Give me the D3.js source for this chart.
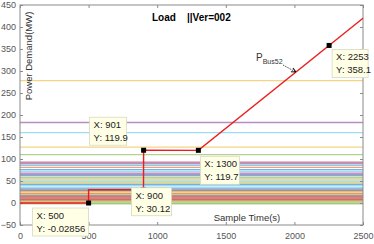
<!DOCTYPE html>
<html>
<head>
<meta charset="utf-8">
<script src="https://cdn.jsdelivr.net/npm/d3@7"></script>
<style>
  body { margin: 0; background: #fff; }
  text { font-family: "Liberation Sans", Arial, sans-serif; }
</style>
</head>
<body>
<div id="chartArea"></div>
<script>
// ---- data ----
var xTicks = [0, 500, 1000, 1500, 2000, 2500]
var yTicks = [-50, 0, 50, 100, 150, 200, 250, 300, 350, 400, 450]

// flat load levels of the other buses (MW)
var loadLevels = [278, 183, 160, 127, 110, 93, 90, 86, 81, 76, 72, 68, 65, 62, 58, 55, 52, 48, 45, 42, 39, 35, 32, 29, 26, 23, 21, 18, 16, 14, 12, 10, 8, 6, 3, 0, -2]
var loadColors = ['#EDB120', '#7E2F8E', '#4DBEEE', '#EDB120', '#77AC30', '#A2142F', '#7E2F8E', '#0072BD', '#D95319', '#0072BD', '#4DBEEE', '#7E2F8E', '#7E2F8E', '#0072BD', '#77AC30', '#EDB120', '#4DBEEE', '#77AC30', '#EDB120', '#0072BD', '#4DBEEE', '#4DBEEE', '#0072BD', '#A2142F', '#77AC30', '#EDB120', '#D95319', '#77AC30', '#7E2F8E', '#A2142F', '#D95319', '#D95319', '#A2142F', '#D95319', '#77AC30', '#77AC30', '#77AC30']

// P_Bus52 trajectory
var busTime = [0, 500, 500, 900, 901, 1300, 2500]
var busPower = [0, -0.02856, 30.1, 30.12, 119.9, 119.7, 419.9]

// datatips
var tipX = [500, 900, 901, 1300, 2253]
var tipY = [-0.02856, 30.12, 119.9, 119.7, 358.1]
var tipYText = ['-0.02856', '30.12', '119.9', '119.7', '358.1']

// layout of the tip boxes relative to their marker
var tipLayout = [
  { dx: -56, dy: 5, w: 56 },
  { dx: -12, dy: -2, w: 40 },
  { dx: -54, dy: -33, w: 37 },
  { dx: 2, dy: 6, w: 39 },
  { dx: 3, dy: 4, w: 36 }
]

var W = 374, H = 244
var pL = 20, pR = 363, pT = 5, pB = 225

var x = d3.scaleLinear().domain([0, 2500]).range([pL, pR])
var y = d3.scaleLinear().domain([-50, 450]).range([pB, pT])

var svg = d3.select('#chartArea')
  .append('svg')
  .attr('width', W)
  .attr('height', H)
  .style('display', 'block')

// background load lines
svg.append('g')
  .selectAll('line')
  .data(loadLevels)
  .enter()
  .append('line')
  .attr('x1', x(0))
  .attr('x2', x(2500))
  .attr('y1', d => y(d))
  .attr('y2', d => y(d))
  .attr('stroke', (d, i) => loadColors[i])
  .attr('stroke-width', 1.3)
  .attr('stroke-opacity', 0.55)

// axes box + ticks (matlab style, ticks inside on all sides)
var axisColor = '#8a8a8a'
svg.append('rect')
  .attr('x', pL).attr('y', pT)
  .attr('width', pR - pL).attr('height', pB - pT)
  .attr('fill', 'none').attr('stroke', axisColor).attr('stroke-width', 1)

var xb = svg.append('g').attr('transform', `translate(0,${pB})`)
  .call(d3.axisBottom(x).tickValues(xTicks).tickSize(-3).tickPadding(8).tickFormat(d3.format('d')))
var xt = svg.append('g').attr('transform', `translate(0,${pT})`)
  .call(d3.axisTop(x).tickValues(xTicks).tickSize(-3).tickFormat(''))
var yl = svg.append('g').attr('transform', `translate(${pL},0)`)
  .call(d3.axisLeft(y).tickValues(yTicks).tickSize(-3).tickPadding(4))
var yr = svg.append('g').attr('transform', `translate(${pR},0)`)
  .call(d3.axisRight(y).tickValues(yTicks).tickSize(-3).tickFormat(''))

;[xb, xt, yl, yr].forEach(function (g) {
  g.select('.domain').remove()
  g.selectAll('line').attr('stroke', axisColor)
  g.selectAll('text').attr('fill', '#555').style('font-size', '9px')
})

// titles
svg.append('text').attr('x', 152).attr('y', 21)
  .style('font-size', '10px').style('font-weight', 'bold').text('Load')
svg.append('text').attr('x', 187).attr('y', 21)
  .style('font-size', '10px').style('font-weight', 'bold').text('||Ver=002')

svg.append('text')
  .attr('transform', 'translate(32,56) rotate(-90)')
  .attr('text-anchor', 'middle')
  .style('font-size', '9.5px').attr('fill', '#333')
  .text('Power Demand(MW)')

svg.append('text').attr('x', 247).attr('y', 221)
  .attr('text-anchor', 'middle')
  .style('font-size', '9.5px').attr('fill', '#333')
  .text('Sample Time(s)')

// P_Bus52 line
var line = d3.line()
  .x((d, i) => x(busTime[i]))
  .y(d => y(d))

svg.append('path')
  .datum(busPower)
  .attr('d', line)
  .attr('fill', 'none')
  .attr('stroke', '#ee1c1c')
  .attr('stroke-width', 1.4)

// annotation P_Bus52 with arrow
var ann = svg.append('text').attr('x', 256).attr('y', 61).attr('fill', '#333')
ann.append('tspan').style('font-size', '10px').text('P')
ann.append('tspan').attr('dy', 3).style('font-size', '7px').text('Bus52')

var arrowT = 2011
var ax = x(arrowT), ay = y(119.7 + (arrowT - 1300) * (419.9 - 119.7) / 1200)
svg.append('line')
  .attr('x1', 283).attr('y1', 65)
  .attr('x2', ax).attr('y2', ay)
  .attr('stroke', '#222').attr('stroke-width', 0.8)
  .attr('stroke-dasharray', '1.5,1')
var ang = Math.atan2(ay - 65, ax - 283)
var ah = 5
svg.append('path')
  .attr('d', 'M' + ax + ',' + ay +
    'L' + (ax - ah * Math.cos(ang - 0.45)) + ',' + (ay - ah * Math.sin(ang - 0.45)) +
    'M' + ax + ',' + ay +
    'L' + (ax - ah * Math.cos(ang + 0.45)) + ',' + (ay - ah * Math.sin(ang + 0.45)))
  .attr('stroke', '#111').attr('stroke-width', 1.1).attr('fill', 'none')

// datatip markers
svg.append('g')
  .selectAll('rect')
  .data(tipX)
  .enter()
  .append('rect')
  .attr('x', d => x(d) - 2.5)
  .attr('y', (d, i) => y(tipY[i]) - 2.5)
  .attr('width', 5).attr('height', 5)
  .attr('fill', '#000')

// datatip boxes
var tips = svg.append('g')
  .selectAll('g')
  .data(tipX)
  .enter()
  .append('g')
  .attr('transform', (d, i) => `translate(${x(d) + tipLayout[i].dx},${y(tipY[i]) + tipLayout[i].dy})`)

tips.append('rect')
  .attr('width', (d, i) => tipLayout[i].w)
  .attr('height', 28)
  .attr('fill', '#ffffe6')
  .attr('stroke', '#d8d8c4')
  .attr('stroke-width', 0.8)

tips.append('text')
  .attr('x', 4).attr('y', 11)
  .style('font-size', '9.5px').attr('fill', '#222')
  .text(d => 'X: ' + d)
tips.append('text')
  .attr('x', 4).attr('y', 24)
  .style('font-size', '9.5px').attr('fill', '#222')
  .text((d, i) => 'Y: ' + tipYText[i])
</script>
</body>
</html>
